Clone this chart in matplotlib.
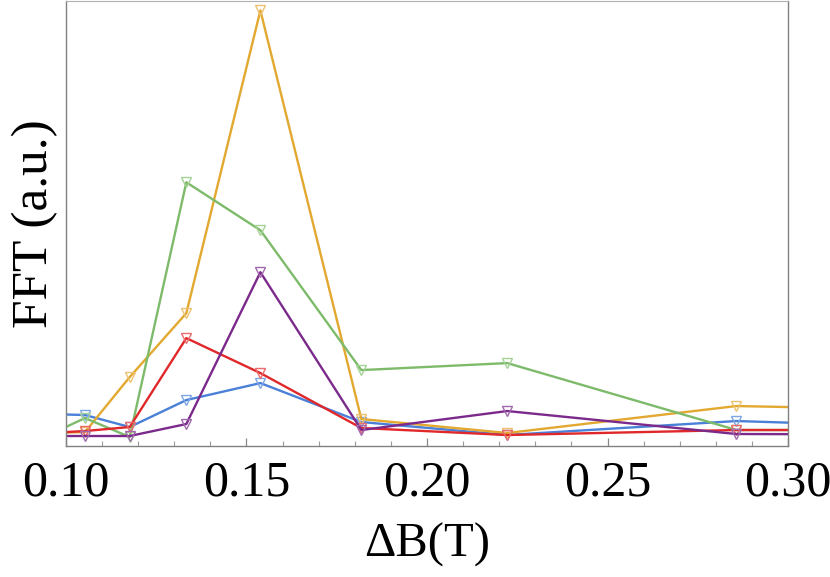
import matplotlib

matplotlib.use("Agg")
import matplotlib.pyplot as plt
from matplotlib.ticker import MultipleLocator

# Field spacing dB = 2/n for odd n (21 ... 5); first and last fall outside the frame
n_odd = [21, 19, 17, 15, 13, 11, 9, 7, 5]
delta_b = [2.0 / n for n in n_odd]

# FFT amplitude (arbitrary units), one list per trace
fft_blue = [32, 31, 19, 46, 63, 24, 11, 25, 12]
fft_orange = [13, 14, 69, 133, 436, 27, 13, 40, 32]
fft_green = [11, 28, 9, 264, 216, 76, 83, 16, 16]
fft_red = [13, 15, 19, 108, 73, 18, 11, 16, 16]
fft_purple = [10, 10, 10, 22, 174, 16, 35, 12, 11]

series = [
    (fft_blue, "#4a80d8", "#7ea6e6"),
    (fft_orange, "#e2a82f", "#ecc270"),
    (fft_green, "#7dbb6a", "#a5d296"),
    (fft_red, "#e0282a", "#ec6a6b"),
    (fft_purple, "#7b2a8c", "#a268ad"),
]

plt.rcParams["font.family"] = ["Liberation Serif", "DejaVu Serif"]

fig = plt.figure(figsize=(8.3, 5.77), dpi=100)
ax = fig.add_axes([66 / 830, 131 / 577, 722 / 830, 445.5 / 577])

for values, line_col, marker_col in series:
    ax.plot(delta_b, values, color=line_col, lw=1.7, marker="v", ms=7.5,
            mfc="none", mec=marker_col, mew=1.0, clip_on=True)

ax.set_xlim(0.10, 0.30)
ax.set_ylim(0, 446)
ax.xaxis.set_minor_locator(MultipleLocator(0.01))
ax.set_xticks([0.10, 0.15, 0.20, 0.25, 0.30])
ax.set_xticklabels(["0.10", "0.15", "0.20", "0.25", "0.30"])
ax.set_yticks([])

ax.tick_params(axis="x", which="major", direction="in", length=6, width=0.9,
               color="#888888", labelsize=36, pad=10)
ax.tick_params(axis="x", which="minor", direction="in", length=3.5, width=0.8,
               color="#999999")
ax.tick_params(axis="x", top=False)

for side in ("left", "right", "bottom"):
    ax.spines[side].set_color("#808080")
    ax.spines[side].set_linewidth(1.0)
ax.spines["top"].set_color("#b0b0b0")

ax.set_xlabel("ΔB(T)", fontsize=35, labelpad=12)
ax.set_ylabel("FFT (a.u.)", fontsize=37, labelpad=6)

fig.savefig("out.png", dpi=100)
